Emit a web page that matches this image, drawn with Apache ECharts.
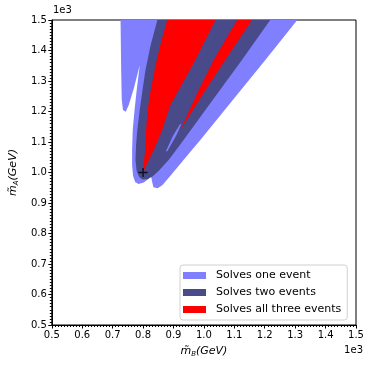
<!DOCTYPE html>
<html>
<head>
<meta charset="utf-8">
<script src="https://cdn.jsdelivr.net/npm/echarts@6/dist/echarts.min.js"></script>
<style>
  html, body { margin: 0; padding: 0; background: #fff; }
  #main { width: 374px; height: 370px; }
</style>
</head>
<body>
<div id="main"></div>
<script>
// axis ticks (GeV), shown divided by 1e3
var xTicks = [500, 600, 700, 800, 900, 1000, 1100, 1200, 1300, 1400, 1500];
var yTicks = [500, 600, 700, 800, 900, 1000, 1100, 1200, 1300, 1400, 1500];

// region outlines, [mB, mA] in GeV
var oneEvent = [[726,1500],[1307,1500],[1202,1369],[1087,1228],[989,1107],[933,1041],[890,989],[864,959],[848,948],[834,952],[830,969],[826,989],[818,979],[802,967],[785,962],[774,969],[767,989],[764,1025],[764,1074],[766,1139],[772,1205],[779,1270],[789,1352],[770,1277],[753,1221],[743,1199],[734,1205],[730,1238],[728,1336]];
var twoEvents = [[847,1500],[1218,1500],[1125,1369],[1005,1205],[923,1093],[884,1041],[851,1005],[831,987],[815,979],[798,977],[787,985],[779,1005],[775,1041],[777,1090],[781,1139],[789,1205],[798,1270],[808,1336],[825,1418]];
var twoEventsGap = [[926,1159],[910,1123],[880,1070],[875,1070],[898,1120],[921,1157]];
var threeEventsMain = [[879,1500],[1038,1500],[972,1369],[890,1221],[863,1139],[835,1074],[811,1025],[800,1000],[802,1025],[807,1074],[810,1139],[815,1205],[825,1270],[841,1352],[857,1418]];
var threeEventsWedge = [[1109,1500],[1158,1500],[1070,1369],[999,1261],[923,1139],[978,1261],[1032,1369]];
var truePoint = [[800, 1000]];

var names = ['Solves one event', 'Solves two events', 'Solves all three events'];
var colors = ['#8080ff', '#484a8a', '#ff0000'];

function polySeries(name, pts, color) {
    return {
        name: name,
        type: 'custom',
        clip: true,
        silent: true,
        itemStyle: { color: color },
        data: pts,
        renderItem: function (params, api) {
            if (params.dataIndex !== 0) return null;
            return {
                type: 'polygon',
                shape: { points: pts.map(function (p) { return api.coord(p); }) },
                style: { fill: color }
            };
        }
    };
}

var fmt = function (v) { return (v / 1000).toFixed(1); };
var font = 'DejaVu Sans';
var nameRich = {
    i: { fontFamily: font, fontStyle: 'italic', fontSize: 11, color: '#000' },
    s: { fontFamily: font, fontStyle: 'italic', fontSize: 7, color: '#000', verticalAlign: 'bottom', padding: [6, 0, 0, 0] },
    t: { fontFamily: font, fontStyle: 'italic', fontSize: 11, color: '#000' }
};

var myChart = echarts.init(document.getElementById('main'));
myChart.setOption({
    animation: false,
    grid: { left: 51, top: 20, width: 305, height: 305, show: true, borderColor: '#000', borderWidth: 1, backgroundColor: 'transparent' },
    legend: {
        orient: 'vertical',
        left: 180, top: 265,
        padding: [4, 6, 4, 3],
        itemWidth: 23, itemHeight: 7, itemGap: 4,
        backgroundColor: 'rgba(255,255,255,0.85)',
        borderColor: '#d0d0d0', borderWidth: 1, borderRadius: 3,
        textStyle: { fontFamily: font, fontSize: 11, color: '#000', lineHeight: 13, padding: [0, 0, 0, 5] },
        data: names.map(function (n, i) { return { name: n, icon: 'rect', itemStyle: { color: colors[i] } }; })
    },
    xAxis: {
        type: 'value', min: xTicks[0], max: xTicks[xTicks.length - 1], interval: 100,
        name: '{i|m̃}{s|B}{t|(GeV)}', nameLocation: 'middle', nameGap: 20,
        nameTextStyle: { rich: nameRich },
        axisLine: { lineStyle: { color: '#000' } },
        axisTick: { length: 3.5, lineStyle: { color: '#000' } },
        minorTick: { show: true, splitNumber: 10, length: 2, lineStyle: { color: '#000' } },
        splitLine: { show: false },
        axisLabel: { formatter: fmt, fontFamily: font, fontSize: 10, color: '#000', margin: 5 }
    },
    yAxis: {
        type: 'value', min: yTicks[0], max: yTicks[yTicks.length - 1], interval: 100,
        name: '{i|m̃}{s|A}{t|(GeV)}', nameLocation: 'middle', nameGap: 25,
        nameTextStyle: { rich: nameRich },
        axisLine: { lineStyle: { color: '#000' } },
        axisTick: { length: 3.5, lineStyle: { color: '#000' } },
        minorTick: { show: true, splitNumber: 10, length: 2, lineStyle: { color: '#000' } },
        splitLine: { show: false },
        axisLabel: { formatter: fmt, fontFamily: font, fontSize: 10, color: '#000', margin: 5 }
    },
    graphic: [
        { type: 'text', left: 53, top: 5, style: { text: '1e3', fontFamily: font, fontSize: 10, fill: '#000' } },
        { type: 'text', right: 11, top: 345, style: { text: '1e3', fontFamily: font, fontSize: 10, fill: '#000' } }
    ],
    series: [
        polySeries(names[0], oneEvent, colors[0]),
        polySeries(names[1], twoEvents, colors[1]),
        polySeries('gap', twoEventsGap, colors[0]),
        polySeries(names[2], threeEventsMain, colors[2]),
        polySeries(names[2], threeEventsWedge, colors[2]),
        {
            type: 'scatter',
            data: truePoint,
            symbol: 'path://M0.42,0H0.58V0.42H1V0.58H0.58V1H0.42V0.58H0V0.42H0.42Z',
            symbolSize: 9,
            itemStyle: { color: '#000' },
            silent: true,
            z: 5
        }
    ]
});
</script>
</body>
</html>
